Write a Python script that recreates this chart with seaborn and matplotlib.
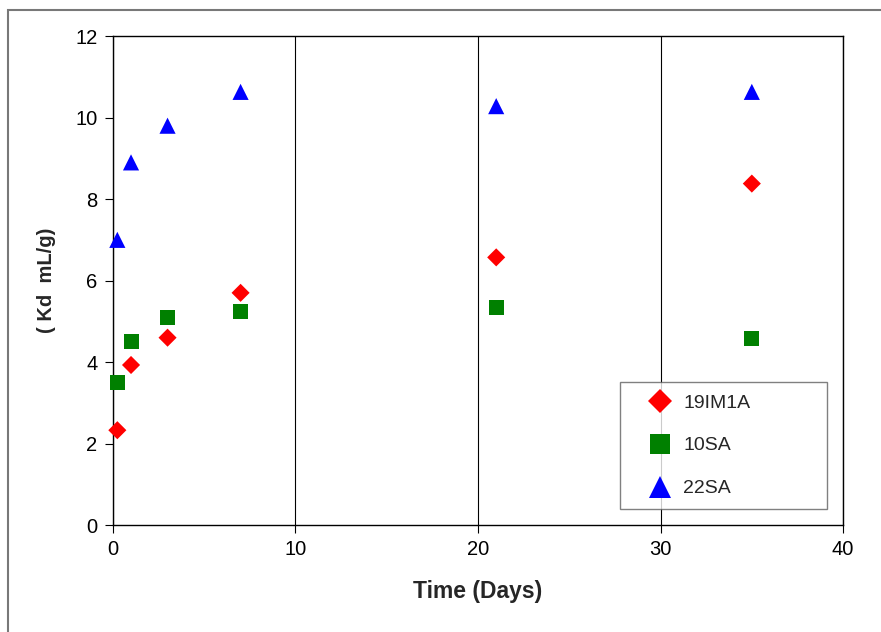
import pandas as pd
import matplotlib
matplotlib.use("Agg")
import matplotlib.pyplot as plt
import seaborn as sns
from matplotlib.patches import Rectangle

# data
dias = [0.25, 1, 3, 7, 21, 35]
kd_19im1a = [2.33, 3.93, 4.6, 5.7, 6.57, 8.38]
kd_10sa = [3.5, 4.5, 5.1, 5.25, 5.35, 4.58]
kd_22sa = [7.0, 8.9, 9.8, 10.63, 10.28, 10.63]
series = ['19IM1A', '10SA', '22SA']

df = pd.DataFrame({
    'Time': dias * 3,
    'Kd': kd_19im1a + kd_10sa + kd_22sa,
    'Sample': [s for s in series for _ in dias],
})

sns.set_theme(style="white")
plt.rcParams['font.family'] = ['Liberation Sans', 'DejaVu Sans']

colores = {'19IM1A': '#ff0000', '10SA': '#008000', '22SA': '#0000ff'}
marcadores = {'19IM1A': 'D', '10SA': 's', '22SA': '^'}
tamanos = {'19IM1A': 85, '10SA': 117, '22SA': 135}

fig = plt.figure(figsize=(8.81, 6.32), dpi=100)
ax = fig.add_axes([0.128, 0.169, 0.829, 0.774])

# outer frame of the original graphic
fig.patches.append(Rectangle((8 / 881, -0.1), 1.1, (632 - 10) / 632 + 0.1,
                             transform=fig.transFigure, fill=False,
                             edgecolor='#787878', linewidth=1.5))

sns.scatterplot(data=df, x='Time', y='Kd', hue='Sample', style='Sample',
                size='Sample', sizes=tamanos, palette=colores,
                markers=marcadores, linewidth=0, clip_on=False,
                ax=ax, legend=True, zorder=3)

ax.set_xlim(0, 40)
ax.set_ylim(0, 12)
ax.set_xticks([0, 10, 20, 30, 40])
ax.set_yticks([0, 2, 4, 6, 8, 10, 12])
ax.xaxis.grid(True, color='black', linewidth=0.8)
ax.yaxis.grid(False)
for sp in ax.spines.values():
    sp.set_color('black')
    sp.set_linewidth(1.0)
ax.tick_params(axis='both', direction='out', length=6, width=0.8,
               color='black', labelsize=14.5, labelcolor='black',
               bottom=True, left=True, pad=5)
ax.set_xlabel("Time (Days)", fontsize=16.5, fontweight='bold', labelpad=15)
ax.set_ylabel("( Kd  mL/g)", fontsize=14.5, fontweight='bold', labelpad=14)

leg = ax.legend(loc='lower left', bbox_to_anchor=(0.695, 0.033, 0.283, 0.266),
                mode='expand', borderaxespad=0, fontsize=14, labelspacing=1.3,
                handlelength=2.9, handletextpad=-0.27, borderpad=0.6,
                frameon=True, fancybox=False, markerscale=1.33)
leg.get_frame().set_edgecolor('#606060')
leg.get_frame().set_linewidth(1.0)

plt.savefig("out.png", dpi=100)
plt.close()
